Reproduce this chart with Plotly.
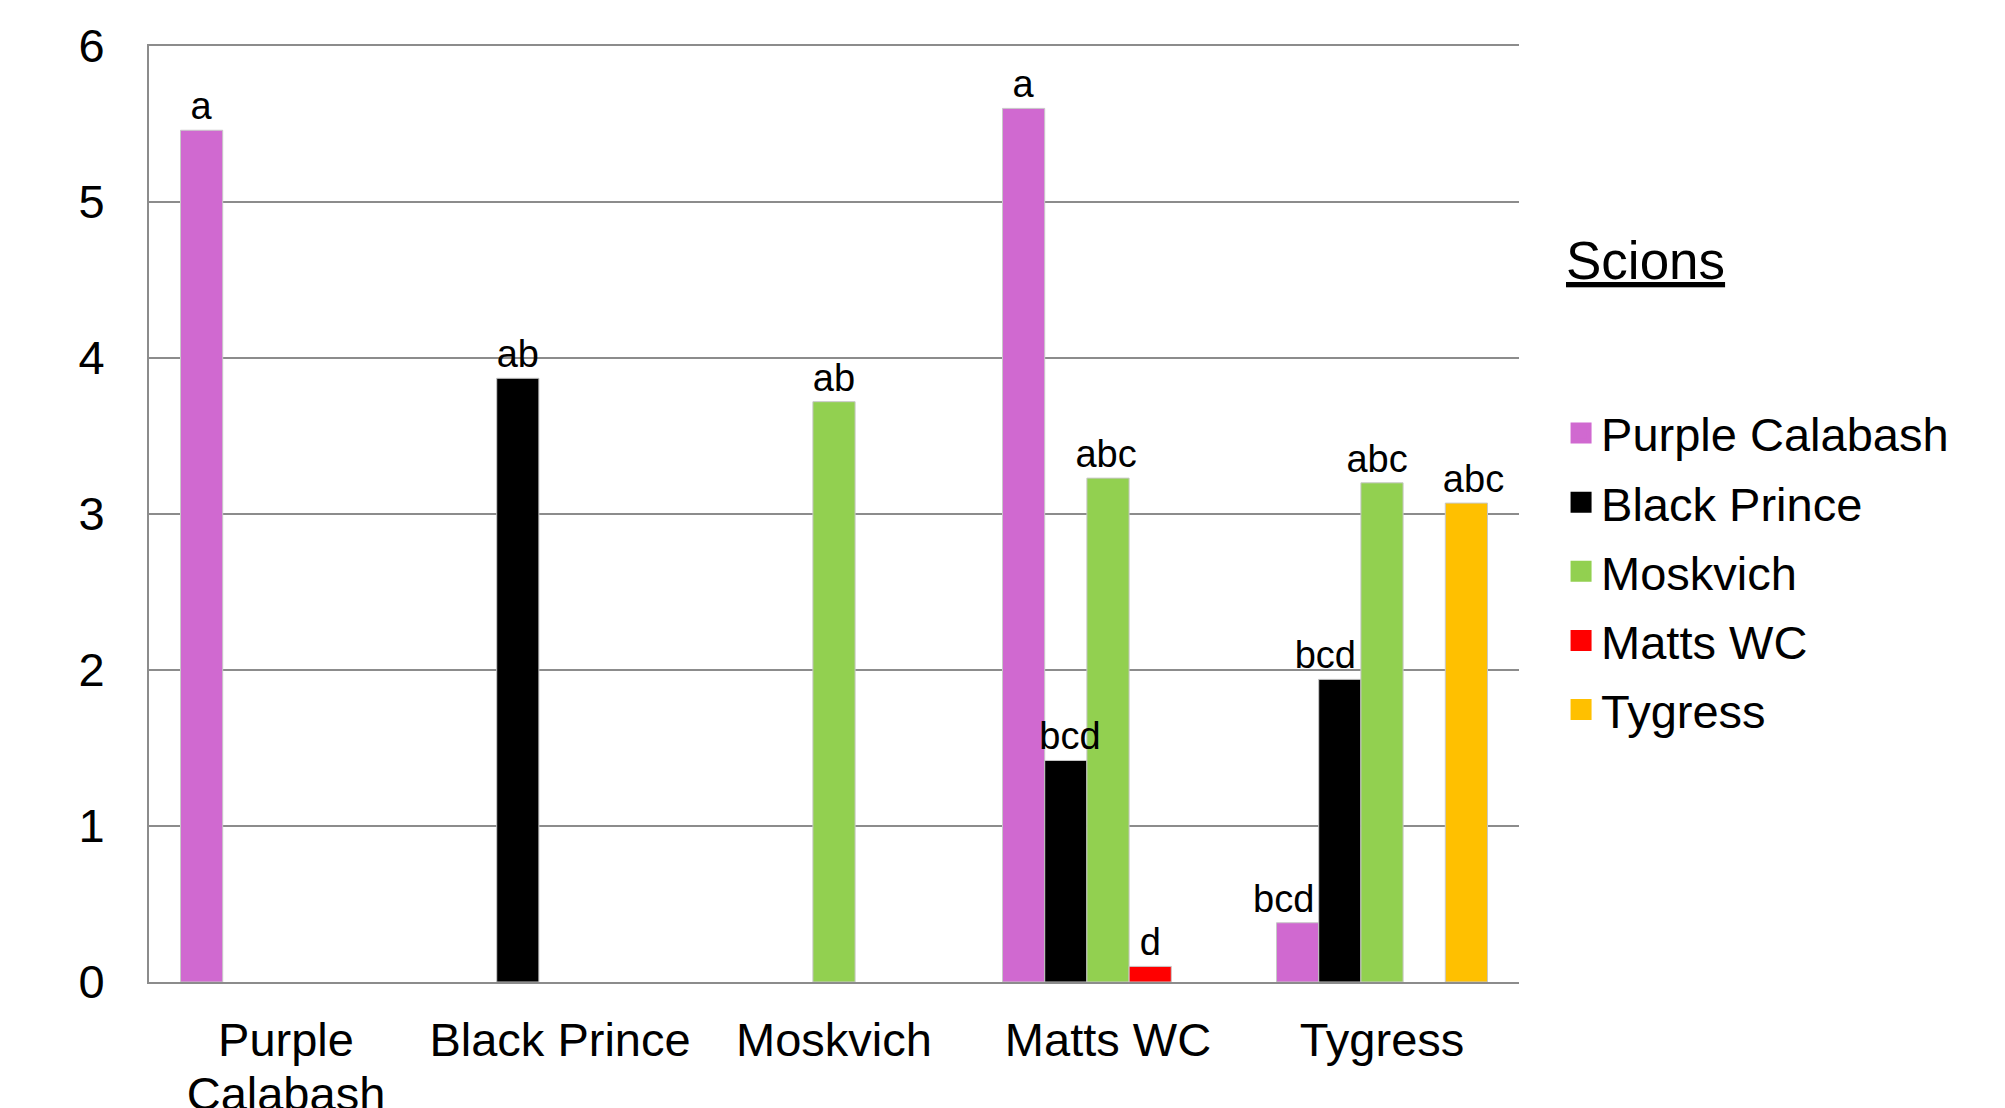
import plotly.graph_objects as go

rootstocks = ["Purple Calabash", "Black Prince", "Moskvich", "Matts WC", "Tygress"]
tick_labels = ["Purple", "Black Prince", "Moskvich", "Matts WC", "Tygress"]
tick_labels_line2 = ["Calabash", "", "", "", ""]
scions = ["Purple Calabash", "Black Prince", "Moskvich", "Matts WC", "Tygress"]
colors = ["#D069D0", "#000000", "#92D050", "#FF0000", "#FFC000"]

purple_calabash = [5.46, None, None, 5.60, 0.38]
black_prince = [None, 3.87, None, 1.42, 1.94]
moskvich = [None, None, 3.72, 3.23, 3.20]
matts_wc = [None, None, None, 0.10, None]
tygress = [None, None, None, None, 3.07]

pc_letters = ["a", "", "", "a", "bcd"]
bp_letters = ["", "ab", "", "bcd", "bcd"]
mo_letters = ["", "", "ab", "abc", "abc"]
mw_letters = ["", "", "", "d", ""]
ty_letters = ["", "", "", "", "abc"]

values = [purple_calabash, black_prince, moskvich, matts_wc, tygress]
letters = [pc_letters, bp_letters, mo_letters, mw_letters, ty_letters]

# style: small horizontal nudges of the letter labels (category units),
# as they were placed by hand in the original chart
label_nudge = [
    [0, 0, 0, 0, -0.051],
    [0, 0, 0, 0.015, -0.053],
    [0, 0, 0, -0.007, -0.018],
    [0, 0, 0, 0, 0],
    [0, 0, 0, 0, 0.026],
]

FONT = "Liberation Sans, Arial, sans-serif"
BARGAP = 0.23
n = len(scions)
bar_w = (1 - BARGAP) / n
offsets = [-(1 - BARGAP) / 2 + i * bar_w for i in range(n)]

fig = go.Figure()
# the bars
for i in range(n):
    fig.add_trace(go.Bar(
        x=rootstocks, y=values[i], name=scions[i],
        width=bar_w, offset=offsets[i],
        marker=dict(color=colors[i], line=dict(color="#c8c8c8", width=1)),
        legendgroup=scions[i], showlegend=False,
    ))
# the letters, drawn on top of every bar
for i in range(n):
    fig.add_trace(go.Bar(
        x=rootstocks, y=values[i], name=scions[i] + " letters", text=letters[i],
        width=bar_w, offset=[offsets[i] + d for d in label_nudge[i]],
        textposition="outside", textangle=0, constraintext="none",
        cliponaxis=False,
        textfont=dict(family=FONT, size=38, color="black"),
        marker=dict(color="rgba(0,0,0,0)", line=dict(width=0)),
        legendgroup=scions[i], showlegend=False, hoverinfo="skip",
    ))
# legend entries
for name, col in zip(scions, colors):
    fig.add_trace(go.Scatter(
        x=[None], y=[None], mode="markers", name=name, legendgroup=name,
        marker=dict(symbol="square", size=16, color=col,
                    line=dict(color=col, width=5)),
        showlegend=True,
    ))
# carrier for the second line of the category labels
fig.add_trace(go.Scatter(
    x=rootstocks, y=[None] * n, xaxis="x2", mode="markers",
    showlegend=False, hoverinfo="skip",
))

fig.update_layout(
    width=2005, height=1108,
    margin=dict(l=141, r=494, t=38, b=134, autoexpand=False),
    paper_bgcolor="white", plot_bgcolor="white",
    barmode="overlay",
    font=dict(family=FONT, color="black"),
    legend=dict(
        x=1.0307, xanchor="left", y=0.626, yanchor="top",
        font=dict(family=FONT, size=47, color="black"),
        tracegroupgap=5, bgcolor="rgba(0,0,0,0)",
    ),
    annotations=[dict(
        text="<u>Scions</u>", xref="paper", yref="paper",
        x=1.0327, y=0.7708, xanchor="left", yanchor="middle",
        showarrow=False, font=dict(family=FONT, size=53, color="black"),
    )],
    xaxis2=dict(
        matches="x", overlaying="x", anchor="y", side="bottom",
        tickvals=rootstocks, ticktext=tick_labels_line2, automargin=False,
        tickfont=dict(family=FONT, size=47, color="black"),
        showline=False, showgrid=False, zeroline=False, ticks="",
        ticklabelstandoff=80,
    ),
)
fig.layout.xaxis.update(
    tickvals=rootstocks, ticktext=tick_labels, automargin=False,
    tickfont=dict(family=FONT, size=47, color="black"),
    showline=True, linecolor="#8c8c8c", linewidth=2, mirror=True,
    showgrid=False, ticks="", ticklabelstandoff=16,
)
fig.update_yaxes(
    range=[0, 6], dtick=1, tick0=0, automargin=False,
    tickfont=dict(family=FONT, size=47, color="black"),
    showline=True, linecolor="#8c8c8c", linewidth=2,
    showgrid=True, gridcolor="#8c8c8c", gridwidth=2,
    zeroline=False, ticks="", ticklabelstandoff=33,
)

fig.write_html("out.html")
